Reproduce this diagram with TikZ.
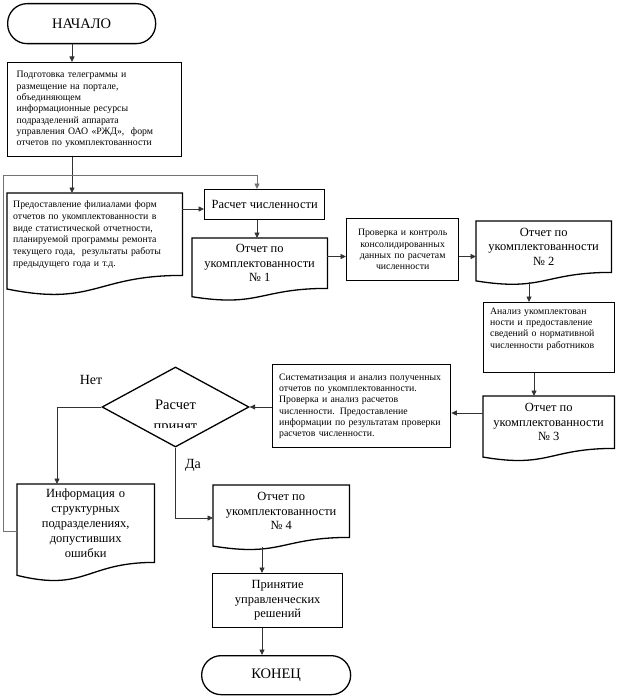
\documentclass[tikz,border=0pt]{standalone}
\usepackage{fontspec}
\setmainfont{Liberation Serif}
\usetikzlibrary{arrows.meta,calc,shapes.geometric}
\newcommand\docpath[1]{\draw[docline] (#1.north west) -- (#1.north east) -- (#1.south east) .. controls (#1.south) and ($(#1.north)!1.38!(#1.south)$) .. ($(#1.north west)!1.165!(#1.south west)$) -- cycle;}
\begin{document}
\begin{tikzpicture}[x=1pt,y=-1pt,
 box/.style={draw, line width=1.3pt, rectangle, anchor=north west, inner sep=0pt, align=center, font=\fontsize{12.5}{14.5}\selectfont},
 docn/.style={anchor=north west, inner sep=0pt, align=center, font=\fontsize{12.5}{14.5}\selectfont},
 small/.style={font=\fontsize{9.8}{11.3}\selectfont},
 term/.style={draw, line width=1.3pt, rectangle, rounded corners=19.5pt, anchor=north west, inner sep=0pt, font=\fontsize{14.5}{16}\selectfont},
 arr/.style={draw=black!80, line width=0.8pt, -{Triangle[length=5.5pt,width=5pt]}},
 loopl/.style={draw=black!55, line width=0.8pt, -{Triangle[length=5.5pt,width=5pt]}},
 docline/.style={draw, line width=1.3pt},
 lbl/.style={font=\fontsize{14}{16}\selectfont}]
\useasboundingbox (0,0) rectangle (623,698);

% nodes
\node[term, minimum width=148, minimum height=40] (start) at (7,3) {НАЧАЛО};
\node[box, small, minimum width=174, minimum height=94, text width=156, align=left] (prep) at (7,62) {Подготовка телеграммы и\\ размещение на портале,\\ объединяющем\\ информационные ресурсы\\ подразделений аппарата\\ управления ОАО «РЖД»,\ \ форм\\ отчетов по укомплектованности};
\node[docn, font=\fontsize{9.8}{11.8}\selectfont, minimum width=175, minimum height=82, text width=163, align=left] (branch) at (7,193) {\mbox{}\\[-4pt] Предоставление филиалами форм\\ отчетов по укомплектованности в\\ виде статистической отчетности,\\ планируемой программы ремонта\\ текущего года,\ \ результаты работы\\ предыдущего года и т.д.};
\node[box, minimum width=120, minimum height=30] (calc) at (204,189) {Расчет численности};
\node[docn, minimum width=135, minimum height=50] (rep1) at (192,238) {Отчет по\\ укомплектованности\\ № 1};
\node[box, small, minimum width=112, minimum height=62, text width=108] (check) at (346,218) {Проверка и контроль\\ консолидированных\\ данных по расчетам\\ численности};
\node[docn, minimum width=135, minimum height=51] (rep2) at (476,221) {Отчет по\\ укомплектованности\\ № 2};
\node[box, small, minimum width=131, minimum height=70, text width=118, align=left] (anal) at (483,302) {Анализ укомплектован\\ ности и предоставление\\ сведений о нормативной\\ численности работников\\ \mbox{}\\[-3pt] \mbox{}};
\node[docn, minimum width=131, minimum height=52] (rep3) at (483,396) {Отчет по\\ укомплектованности\\ № 3};
\node[box, small, minimum width=178, minimum height=83, text width=165, align=left] (sys) at (272,364) {Систематизация и анализ полученных\\ отчетов по укомплектованности.\\ Проверка и анализ расчетов\\ численности. Предоставление\\ информации по результатам проверки\\ расчетов численности.};
\node[draw, line width=1.3pt, diamond, minimum width=147, minimum height=80, inner sep=0pt] (dec) at (175.5,407) {};
\begin{scope}
\clip (100,367) rectangle (250,427);
\node[font=\fontsize{14.5}{21}\selectfont, align=center, anchor=north, inner sep=0pt] (dect) at (175.5,400) {Расчет\\ принят};
\end{scope}
\node[lbl] (no) at (91,380) {Нет};
\node[lbl] (yes) at (193,465) {Да};
\node[docn, font=\fontsize{12.5}{15}\selectfont, minimum width=137, minimum height=78, text width=130] (errinfo) at (17,484) {Информация о\\ структурных\\ подразделениях,\\ допустивших\\ ошибки};
\node[docn, minimum width=136, minimum height=52] (rep4) at (213,485) {Отчет по\\ укомплектованности\\ № 4};
\node[box, minimum width=130, minimum height=54] (mgmt) at (212,573) {Принятие\\ управленческих\\ решений};
\node[term, minimum width=149, minimum height=39] (fin) at (201,655) {КОНЕЦ};

% document shapes
\docpath{branch}
\docpath{rep1}
\docpath{rep2}
\docpath{rep3}
\docpath{errinfo}
\docpath{rep4}

% helper coordinates
\coordinate (a1) at (72,0);
\coordinate (a2) at (0,209);
\coordinate (l1) at (3,531);
\coordinate (l2) at (3,175);
\coordinate (l3) at (257,175);
\coordinate (a4) at (0,256.5);
\coordinate (a5) at (529,282);
\coordinate (a6) at (534,0);
\coordinate (a7) at (0,413);
\coordinate (a8) at (57,0);
\coordinate (a9) at (0,518);
\coordinate (a10) at (262,547);

% connectors
\draw[arr] (start.south -| a1) -- (prep.north -| a1);
\draw[arr] (prep.south -| a1) -- (branch.north -| a1);
\draw[arr] (branch.east |- a2) -- (calc.west |- a2);
\draw[loopl] (errinfo.west |- l1) -- (l1) -- (l2) -- (l3) -- (calc.north -| l3);
\draw[arr] (calc.south -| l3) -- (rep1.north -| l3);
\draw[arr] (rep1.east |- a4) -- (check.west |- a4);
\draw[arr] (check.east |- a4) -- (rep2.west |- a4);
\draw[arr] (a5) -- (anal.north -| a5);
\draw[arr] (anal.south -| a6) -- (rep3.north -| a6);
\draw[arr] (rep3.west |- a7) -- (sys.east |- a7);
\draw[arr] (sys.west |- dec.east) -- (dec.east);
\draw[arr] (dec.west) -| (errinfo.north -| a8);
\draw[arr] (dec.south) |- (rep4.west |- a9);
\draw[arr] (a10) -- (mgmt.north -| a10);
\draw[arr] (mgmt.south -| a10) -- (fin.north -| a10);
\end{tikzpicture}
\end{document}
